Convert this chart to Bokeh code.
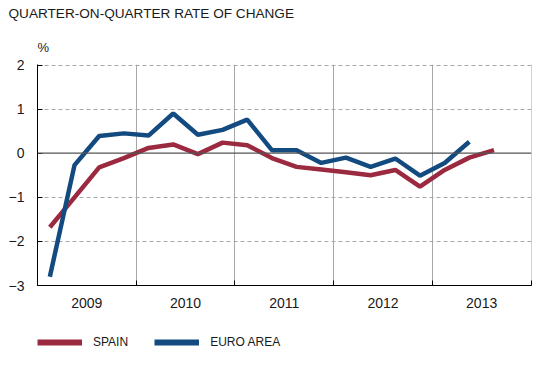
from bokeh.plotting import figure
from bokeh.layouts import column
from bokeh.models import (LinearAxis, FixedTicker, Grid, Legend, LegendItem, Span, Title,
                          Range1d)
from bokeh.embed import file_html
from bokeh.resources import INLINE

# --- data -------------------------------------------------------------
years = ["2009", "2010", "2011", "2012", "2013"]
spain = [-1.68, -1.00, -0.32, -0.11, 0.12, 0.20, -0.02, 0.24, 0.18, -0.11,
         -0.31, -0.37, -0.43, -0.50, -0.38, -0.76, -0.38, -0.10, 0.07]
euro_area = [-2.80, -0.27, 0.39, 0.45, 0.40, 0.90, 0.42, 0.53, 0.76, 0.07,
             0.07, -0.22, -0.10, -0.31, -0.12, -0.51, -0.22, 0.26]
y_ticks = [-3, -2, -1, 0, 1, 2]
series_names = ["SPAIN", "EURO AREA"]

# quarter positions: quarter i centred at i + 0.5
spain_x = [i + 0.5 for i in range(len(spain))]
euro_x = [i + 0.5 for i in range(len(euro_area))]
year_bounds = [4 * i for i in range(len(years) + 1)]
year_centers = [4 * i + 2 for i in range(len(years))]

FONT = "Liberation Sans"
SPAIN_C = "#9B2A40"
EURO_C = "#134B80"
GRID_C = "#A8A8A8"
TXT = "#1a1a1a"

W, H_MAIN, H_LEG = 559, 320, 54

p = figure(width=W, height=H_MAIN, output_backend="svg", toolbar_location=None,
           x_axis_location=None, y_axis_location=None,
           x_range=Range1d(0, 4 * len(years) + 0.02),
           y_range=Range1d(min(y_ticks), max(y_ticks) + 0.012),
           min_border_left=37, min_border_right=28, min_border_top=64, min_border_bottom=35)
p.grid.visible = False          # drop the default grids; custom ones below
p.outline_line_color = None
p.background_fill_color = "white"
p.border_fill_color = "white"

# title (outermost panel above)
p.title.text = "QUARTER-ON-QUARTER RATE OF CHANGE"
p.title.text_font = FONT
p.title.text_font_size = "13.6px"
p.title.text_font_style = "normal"
p.title.text_color = TXT
p.title.align = "left"
p.title.vertical_align = "top"
p.title.offset = -29
p.title.standoff = 10

# unit label, just above the plot frame
unit = Title(text="%", align="left", vertical_align="bottom", offset=0, standoff=20,
             text_font=FONT, text_font_size="13px", text_font_style="normal",
             text_color=TXT)
p.add_layout(unit, "above")

# y axis
yaxis = LinearAxis(ticker=FixedTicker(ticks=y_ticks))
yaxis.axis_line_color = "black"
yaxis.axis_line_width = 1
yaxis.major_tick_in = 5
yaxis.major_tick_out = 0
yaxis.major_tick_line_color = "black"
yaxis.minor_tick_line_color = None
yaxis.major_label_standoff = 13
yaxis.major_label_text_font = FONT
yaxis.major_label_text_font_size = "14px"
yaxis.major_label_text_color = TXT
p.add_layout(yaxis, "left")

# x axis: year labels centred in each year, short ticks at year boundaries
xaxis = LinearAxis(ticker=FixedTicker(ticks=year_centers, minor_ticks=year_bounds),
                   major_label_overrides={c: y for c, y in zip(year_centers, years)})
xaxis.axis_line_color = "black"
xaxis.major_tick_line_color = None
xaxis.major_tick_in = 0
xaxis.major_tick_out = 0
xaxis.minor_tick_line_color = "black"
xaxis.minor_tick_in = 5
xaxis.minor_tick_out = 0
xaxis.major_label_standoff = 12
xaxis.major_label_text_font = FONT
xaxis.major_label_text_font_size = "14px"
xaxis.major_label_text_color = TXT
p.add_layout(xaxis, "below")

# grids
hgrid = Grid(dimension=1, ticker=FixedTicker(ticks=[t for t in y_ticks if t != 0]),
             grid_line_color=GRID_C, grid_line_dash="4 3", grid_line_width=1)
vgrid = Grid(dimension=0, ticker=FixedTicker(ticks=year_bounds[1:]),
             grid_line_color=GRID_C, grid_line_width=1)
p.add_layout(hgrid)
p.add_layout(vgrid)
p.add_layout(Span(location=0, dimension="width", line_color="#555555", line_width=1.2))

# lines
p.line(spain_x, spain, line_color=SPAIN_C, line_width=4.5)
p.line(euro_x, euro_area, line_color=EURO_C, line_width=4.5)

# legend strip below the chart (its lines lie outside its visible range)
q = figure(width=W, height=H_LEG, output_backend="svg", toolbar_location=None,
           x_axis_location=None, y_axis_location=None,
           x_range=Range1d(100, 101), y_range=Range1d(0, 1),
           min_border_left=0, min_border_right=0, min_border_top=0, min_border_bottom=0)
q.grid.visible = False
q.outline_line_color = None
q.background_fill_color = "white"
q.border_fill_color = "white"
l_spain = q.line(spain_x, spain, line_color=SPAIN_C, line_width=6)
l_euro = q.line(euro_x, euro_area, line_color=EURO_C, line_width=6)

legend = Legend(items=[LegendItem(label=series_names[0], renderers=[l_spain]),
                       LegendItem(label=series_names[1], renderers=[l_euro])],
                orientation="horizontal", location=(0, 24))
legend.border_line_color = None
legend.background_fill_alpha = 0
legend.padding = 0
legend.margin = 0
legend.glyph_width = 45
legend.glyph_height = 16
legend.label_height = 16
legend.label_standoff = 11
legend.spacing = 26
legend.label_text_font = FONT
legend.label_text_font_size = "12px"
legend.label_text_color = TXT
q.add_layout(legend)

layout = column(p, q, spacing=0)
open("out.html", "w").write(file_html(layout, INLINE))
